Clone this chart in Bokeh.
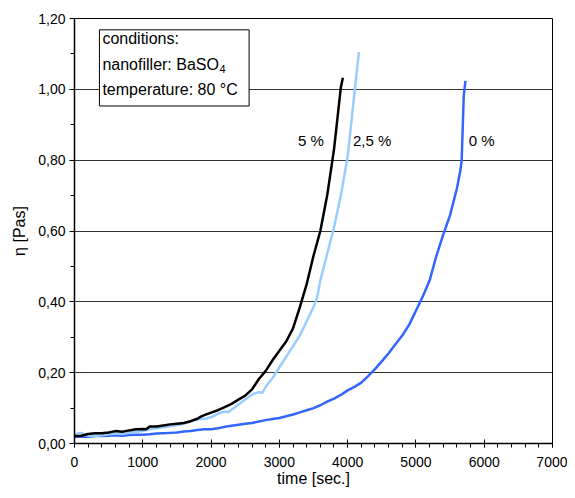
from bokeh.plotting import figure
from bokeh.models import FixedTicker, CustomJSTickFormatter, Label, BoxAnnotation
from bokeh.embed import file_html
from bokeh.resources import INLINE

# --- data ---
t_5 = [0, 100, 200, 300, 400, 500, 600, 700, 800, 900, 1000, 1050, 1100, 1200, 1300, 1400, 1500,
       1600, 1700, 1800, 1850, 1900, 2000, 2100, 2200, 2300, 2400, 2500, 2600, 2700, 2800, 2900,
       3000, 3100, 3200, 3300, 3400, 3500, 3600, 3700, 3800, 3900, 3930]
eta_5 = [0.021, 0.022, 0.027, 0.029, 0.029, 0.031, 0.035, 0.033, 0.037, 0.040, 0.041, 0.040, 0.048,
         0.048, 0.051, 0.054, 0.056, 0.058, 0.063, 0.070, 0.076, 0.080, 0.087, 0.094, 0.103, 0.112,
         0.124, 0.135, 0.153, 0.182, 0.205, 0.235, 0.262, 0.288, 0.325, 0.385, 0.450, 0.530, 0.600,
         0.700, 0.830, 1.005, 1.033]

t_25 = [0, 50, 100, 150, 200, 300, 400, 500, 600, 700, 800, 900, 1000, 1100, 1200, 1300, 1400,
        1500, 1600, 1700, 1800, 1850, 1900, 2000, 2100, 2200, 2250, 2300, 2400, 2500, 2600, 2700,
        2750, 2800, 2900, 3000, 3100, 3200, 3300, 3400, 3500, 3550, 3600, 3700, 3800, 3900, 4000,
        4100, 4165]
eta_25 = [0.025, 0.028, 0.030, 0.024, 0.022, 0.021, 0.023, 0.026, 0.028, 0.027, 0.030, 0.033, 0.035,
          0.040, 0.043, 0.046, 0.049, 0.052, 0.056, 0.062, 0.068, 0.070, 0.069, 0.074, 0.084, 0.090,
          0.088, 0.095, 0.110, 0.124, 0.138, 0.145, 0.143, 0.160, 0.185, 0.215, 0.245, 0.275, 0.305,
          0.345, 0.385, 0.410, 0.460, 0.535, 0.610, 0.700, 0.810, 0.990, 1.105]

t_0 = [0, 100, 200, 300, 400, 500, 600, 700, 800, 900, 1000, 1100, 1200, 1300, 1400, 1500, 1600,
       1700, 1800, 1900, 2000, 2100, 2200, 2300, 2400, 2500, 2600, 2700, 2800, 2900, 3000, 3100,
       3200, 3300, 3400, 3500, 3600, 3700, 3800, 3900, 4000, 4100, 4200, 4300, 4400, 4500, 4600,
       4700, 4800, 4900, 5000, 5100, 5200, 5300, 5400, 5500, 5600, 5650, 5670, 5700, 5725]
eta_0 = [0.019, 0.020, 0.019, 0.021, 0.021, 0.022, 0.023, 0.022, 0.024, 0.025, 0.025, 0.026, 0.028,
         0.029, 0.030, 0.031, 0.034, 0.035, 0.038, 0.040, 0.040, 0.043, 0.047, 0.050, 0.053, 0.056,
         0.058, 0.062, 0.066, 0.069, 0.072, 0.077, 0.082, 0.088, 0.094, 0.100, 0.108, 0.118, 0.127,
         0.137, 0.150, 0.160, 0.172, 0.190, 0.210, 0.232, 0.255, 0.280, 0.305, 0.335, 0.375, 0.415,
         0.460, 0.530, 0.590, 0.645, 0.720, 0.770, 0.800, 0.980, 1.024]

x_ticks = [0, 1000, 2000, 3000, 4000, 5000, 6000, 7000]
x_minor = list(range(0, 7001, 200))
y_ticks = [0.0, 0.2, 0.4, 0.6, 0.8, 1.0, 1.2]
y_minor = [i / 10 for i in range(0, 13)]

series_labels = ["5 %", "2,5 %", "0 %"]
label_x = [3273, 4077, 5772]
label_y = 0.855
box_lines = ["conditions:", "nanofiller: BaSO", "temperature: 80 °C"]
box_y = [1.1426, 1.0715, 0.9995]
subscript = "4"

FONT = "Liberation Sans"

p = figure(width=567, height=490, output_backend="svg", toolbar_location=None,
           x_range=(0, 7000), y_range=(0, 1.2),
           min_border_left=74, min_border_right=15, min_border_top=18, min_border_bottom=47)
p.background_fill_color = "white"
p.border_fill_color = "white"
p.outline_line_color = "black"
p.outline_line_width = 1

# grid
p.xgrid.visible = False
p.ygrid.ticker = FixedTicker(ticks=y_ticks)
p.ygrid.grid_line_color = "#333333"
p.ygrid.grid_line_width = 1

# axes
p.xaxis.ticker = FixedTicker(ticks=x_ticks, minor_ticks=x_minor)
p.yaxis.ticker = FixedTicker(ticks=y_ticks, minor_ticks=y_minor)
p.yaxis.formatter = CustomJSTickFormatter(code="return tick.toFixed(2).replace('.', ',');")
p.xaxis.formatter = CustomJSTickFormatter(code="return tick.toFixed(0);")
for ax in (p.xaxis[0], p.yaxis[0]):
    ax.axis_line_color = "black"
    ax.axis_line_width = 1.5
    ax.major_tick_line_color = "black"
    ax.minor_tick_line_color = "black"
    ax.major_label_text_font = FONT
    ax.major_label_text_font_size = "14px"
    ax.major_label_text_color = "black"
    ax.axis_label_text_font = FONT
    ax.axis_label_text_font_size = "16px"
    ax.axis_label_text_font_style = "normal"
    ax.axis_label_text_color = "black"
p.xaxis.major_tick_in = 4
p.xaxis.major_tick_out = 4
p.xaxis.minor_tick_in = 0
p.xaxis.minor_tick_out = 4
p.xaxis.major_label_standoff = 9
p.yaxis.major_tick_in = 0
p.yaxis.major_tick_out = 5
p.yaxis.minor_tick_in = 0
p.yaxis.minor_tick_out = 4
p.yaxis.major_label_standoff = 4
p.xaxis.axis_label = "time [sec.]"
p.yaxis.axis_label = "η [Pas]"
p.xaxis.axis_label_standoff = 0
p.yaxis.axis_label_standoff = 7

# curves
p.line(t_0, eta_0, line_color="#3366ff", line_width=2.5)
p.line(t_25, eta_25, line_color="#99ccff", line_width=2.5)
p.line(t_5, eta_5, line_color="black", line_width=2.5)

for lab, lx in zip(series_labels, label_x):
    p.add_layout(Label(x=lx, y=label_y, text=lab, text_font=FONT, text_font_size="15px",
                       text_color="black", text_baseline="middle", text_align="left"))

# conditions box
p.add_layout(BoxAnnotation(left=365, right=2557, top=1.168, bottom=0.953,
                           fill_color="white", fill_alpha=1.0,
                           line_color="black", line_width=1, line_alpha=1.0, level="overlay"))
for txt, by in zip(box_lines, box_y):
    p.add_layout(Label(x=409, y=by, text=txt, text_font=FONT, text_font_size="16px",
                       text_color="black", text_baseline="middle", text_align="left",
                       level="overlay"))
p.add_layout(Label(x=409, y=box_y[1], x_offset=117, y_offset=-5, text=subscript, text_font=FONT,
                   text_font_size="11px", text_color="black", text_baseline="middle",
                   text_align="left", level="overlay"))

open("out.html", "w").write(file_html(p, INLINE))
